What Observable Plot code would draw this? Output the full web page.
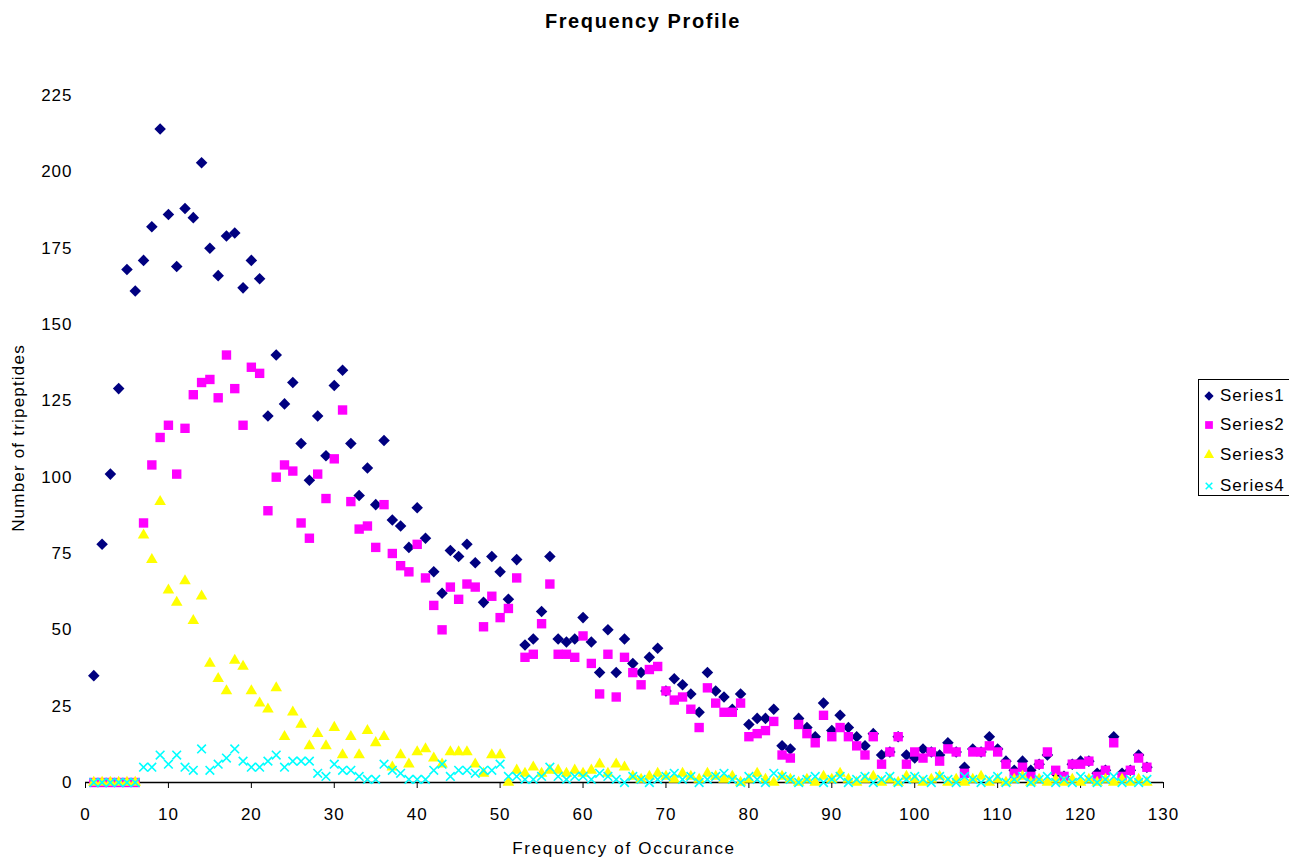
<!DOCTYPE html>
<html>
<head>
<meta charset="utf-8">
<script src="https://cdn.jsdelivr.net/npm/d3@7"></script>
<script src="https://cdn.jsdelivr.net/npm/@observablehq/plot@0.6"></script>
<style>
  body { margin: 0; background: #fff; }
  #wrap { position: relative; width: 1289px; height: 858px; overflow: hidden; font-family: "Liberation Sans", Arial, sans-serif; color: #000; }
  #wrap svg text { letter-spacing: 1px; }
  .title { position: absolute; top: 11px; left: 0; width: 1286px; text-align: center; font-weight: bold; font-size: 20px; letter-spacing: 1.6px; line-height: 1; }
  .xlabel { position: absolute; top: 840px; left: 424px; width: 400px; text-align: center; font-size: 17px; letter-spacing: 1.7px; line-height: 1; }
  .ylabel { position: absolute; left: 18px; top: 438px; transform: translate(-50%, -50%) rotate(-90deg); white-space: nowrap; font-size: 17px; letter-spacing: 1.2px; line-height: 1; }
  .legend { position: absolute; left: 1198px; top: 379px; width: 120px; height: 117px; border: 1.5px solid #000; box-sizing: border-box; background: #fff; }
  .legend .item { position: absolute; left: 4px; height: 20px; display: flex; align-items: center; font-size: 17px; letter-spacing: 1px; white-space: nowrap; }
  .legend svg { margin-right: 5px; }
</style>
</head>
<body>
<div id="wrap"></div>
<script>
// ---- data ----
const freq = d3.range(1, 129); // Frequency of Occurance 1..128
const series1 = [35,78,101,129,168,161,171,182,214,186,
  169,188,185,203,175,166,179,180,162,171,
  165,120,140,124,131,111,99,120,107,130,
  135,111,94,103,91,112,86,84,77,90,
  80,69,62,76,74,78,72,59,74,69,
  60,73,45,47,56,74,47,46,47,54,
  46,36,50,36,47,39,36,41,44,30,
  34,32,29,23,36,30,28,24,29,19,
  21,21,24,12,11,21,18,15,26,17,
  22,18,15,12,16,9,10,15,9,8,
  11,10,9,13,10,5,11,10,15,11,
  7,4,7,4,6,9,3,2,6,7,
  7,3,4,15,3,4,9,5];
const series2 = [0,0,0,0,0,0,85,104,113,117,
  101,116,127,131,132,126,140,129,117,136,
  134,89,100,104,102,85,80,101,93,106,
  122,92,83,84,77,91,75,71,69,78,
  67,58,50,64,60,65,64,51,61,54,
  57,67,41,42,52,65,42,42,41,48,
  39,29,42,28,41,36,32,37,38,30,
  27,28,24,18,31,26,23,23,26,15,
  16,17,20,9,8,19,16,13,22,15,
  18,15,12,9,15,6,10,15,6,10,
  8,10,7,11,10,3,10,10,12,10,
  6,3,5,2,6,10,4,2,6,6,
  7,2,4,13,2,4,8,5];
const series3 = [0,0,0,0,0,0,81,73,92,63,
  59,66,53,61,39,34,30,40,38,30,
  26,24,31,15,23,19,12,16,12,18,
  9,15,9,17,13,15,5,9,6,10,
  11,8,6,10,10,10,6,3,9,9,
  0,4,3,5,3,4,4,3,4,3,
  4,6,3,6,5,2,1,2,3,2,
  1,3,2,1,3,2,1,2,0,1,
  3,1,0,2,1,0,1,0,2,1,
  3,1,0,1,2,0,1,0,2,1,
  0,1,2,0,1,0,1,2,0,1,
  0,1,2,0,1,0,1,0,1,0,
  1,0,1,0,1,0,1,0];
const series4 = [0,0,0,0,0,0,5,5,9,6,
  9,5,4,11,4,6,8,11,7,5,
  5,7,9,5,7,7,7,3,2,6,
  4,4,2,1,1,6,4,3,1,1,
  1,4,6,2,4,4,3,4,4,6,
  2,2,1,1,2,5,2,1,2,2,
  1,3,2,1,0,2,1,0,1,2,
  3,1,2,0,1,2,3,1,0,2,
  1,0,3,2,1,0,1,2,0,1,
  2,0,1,2,0,1,2,0,1,2,
  1,0,2,1,0,2,1,0,1,2,
  0,1,2,0,1,2,0,1,0,2,
  1,0,1,2,0,1,0,1];
const xTicks = [0,10,20,30,40,50,60,70,80,90,100,110,120,130];
const yTicks = [0,25,50,75,100,125,150,175,200,225];
const seriesNames = ["Series1","Series2","Series3","Series4"];
const colors = ["#000080","#FF00FF","#FFFF00","#00FFFF"];

const rows = (vals) => freq.map((f, i) => ({x: f, y: vals[i]}));

const chart = Plot.plot({
  width: 1289,
  height: 858,
  marginTop: 95,
  marginBottom: 76,
  marginLeft: 85,
  marginRight: 126,
  style: {fontFamily: "Liberation Sans, Arial, sans-serif", fontSize: "17px", color: "#000", background: "#fff"},
  x: {domain: [0, 130]},
  y: {domain: [0, 225]},
  marks: [
    Plot.ruleY([0], {stroke: "#000", strokeWidth: 1.3}),
    Plot.axisX({ticks: xTicks, tickSize: 6, tickPadding: 19, label: null, stroke: "#000"}),
    Plot.axisY({ticks: yTicks, tickSize: 0, tickPadding: 13, label: null}),
    Plot.dot(rows(series1), {x: "x", y: "y", symbol: "diamond2", r: 5.2, fill: colors[0], stroke: null}),
    Plot.dot(rows(series2), {x: "x", y: "y", symbol: "square", r: 5.3, fill: colors[1], stroke: null}),
    Plot.dot(rows(series3), {x: "x", y: "y", symbol: "triangle", r: 4.3, fill: colors[2], stroke: null}),
    Plot.dot(rows(series4), {x: "x", y: "y", symbol: "times", r: 4, stroke: colors[3], strokeWidth: 1.6})
  ]
});

const wrap = document.getElementById("wrap");
wrap.appendChild(chart);

const title = document.createElement("div");
title.className = "title";
title.textContent = "Frequency Profile";
wrap.appendChild(title);

const xl = document.createElement("div");
xl.className = "xlabel";
xl.textContent = "Frequency of Occurance";
wrap.appendChild(xl);

const yl = document.createElement("div");
yl.className = "ylabel";
yl.textContent = "Number of tripeptides";
wrap.appendChild(yl);

// legend
const legend = document.createElement("div");
legend.className = "legend";
const legendTops = [6, 35, 65, 96];
seriesNames.forEach((name, i) => {
  const item = document.createElement("div");
  item.className = "item";
  item.style.top = legendTops[i] + "px";
  const sym = d3.symbol(
    i === 0 ? d3.symbolDiamond2 : i === 1 ? d3.symbolSquare : i === 2 ? d3.symbolTriangle : d3.symbolTimes,
    i === 0 ? 55 : i === 1 ? 60 : i === 2 ? 45 : 30
  );
  const svg = d3.create("svg").attr("width", 12).attr("height", 14);
  const p = svg.append("path").attr("d", sym()).attr("transform", "translate(6,7)");
  if (i === 3) p.attr("fill", "none").attr("stroke", colors[i]).attr("stroke-width", 1.5);
  else p.attr("fill", colors[i]);
  item.appendChild(svg.node());
  const t = document.createElement("span");
  t.textContent = name;
  item.appendChild(t);
  legend.appendChild(item);
});
wrap.appendChild(legend);
</script>
</body>
</html>
